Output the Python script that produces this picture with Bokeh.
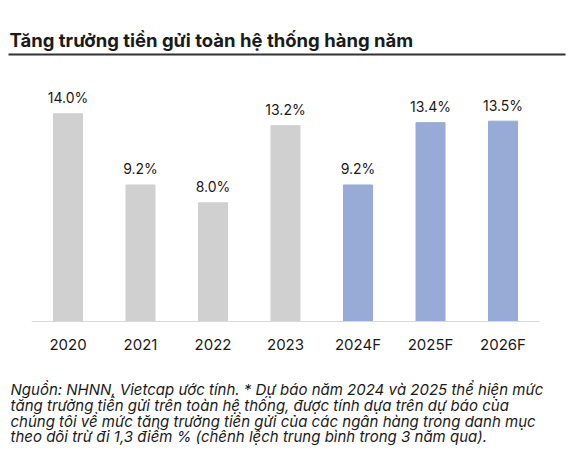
from bokeh.core.properties import value
from bokeh.embed import file_html
from bokeh.models import BoxAnnotation, ColumnDataSource, FactorRange, Label, Range1d
from bokeh.plotting import figure
from bokeh.resources import INLINE

# data
years = ["2020", "2021", "2022", "2023", "2024F", "2025F", "2026F"]
growth = [14.0, 9.2, 8.0, 13.2, 9.2, 13.4, 13.5]
colors = ["#D0D0D0"] * 4 + ["#97ABD6"] * 3

title_text = "Tăng trưởng tiền gửi toàn hệ thống hàng năm"
note_lines = [
    "Nguồn: NHNN, Vietcap ước tính. * Dự báo năm 2024 và 2025 thể hiện mức",
    "tăng trưởng tiền gửi trên toàn hệ thống, được tính dựa trên dự báo của",
    "chúng tôi về mức tăng trưởng tiền gửi của các ngân hàng trong danh mục",
    "theo dõi trừ đi 1,3 điểm % (chênh lệch trung bình trong 3 năm qua).",
]

FONT = "Inter"
TXT = "#1a1a1a"

W, H = 570, 461
BASE_Y = 321          # canvas row of the zero line
px_per_pct = 14.84

src = ColumnDataSource(dict(
    year=years,
    growth=growth,
    color=colors,
    label=[f"{v:.1f}%" for v in growth],
    zero=[0] * len(years),
))

# the frame fills the whole canvas; all text is drawn inside it
p = figure(
    width=W,
    height=H,
    x_range=FactorRange(*years, range_padding=0.431, range_padding_units="absolute"),
    y_range=Range1d(-(H - BASE_Y) / px_per_pct, BASE_Y / px_per_pct),
    output_backend="svg",
    toolbar_location=None,
    x_axis_location=None,
    y_axis_location=None,
    min_border=0,
)
p.outline_line_color = None
p.xgrid.grid_line_color = None
p.ygrid.grid_line_color = None

p.vbar(x="year", top="growth", width=0.4, color="color", source=src)

# zero line across the category span
p.segment(x0=[(years[0], -0.5)], x1=[(years[-1], 0.5)], y0=[0], y1=[0],
          line_color="#D9D9D9", line_width=1)

p.text(
    x="year", y="growth", text="label", source=src,
    text_align="center", text_baseline="alphabetic", y_offset=-16,
    text_font=value(FONT), text_font_size="14px", text_color=TXT,
)
p.text(
    x="year", y="zero", text="year", source=src,
    text_align="center", text_baseline="alphabetic", y_offset=23,
    text_font=value(FONT), text_font_size="15px", text_color=TXT,
)

# title with rule underneath
p.add_layout(Label(
    x=9, y=H - 39, x_units="screen", y_units="screen",
    text=title_text, text_font=FONT, text_font_size="18.5px",
    text_font_style="bold", text_color=TXT, text_baseline="alphabetic",
))
p.add_layout(BoxAnnotation(
    left=8, right=565, bottom=H - 55, top=H - 53,
    left_units="screen", right_units="screen", top_units="screen", bottom_units="screen",
    fill_color="#333333", fill_alpha=1, line_color=None,
))

# source note
for i, line in enumerate(note_lines):
    p.add_layout(Label(
        x=10, y=H - 389 - i * 15.8,
        x_units="screen", y_units="screen",
        text=line, text_font=FONT, text_font_size="15px",
        text_font_style="italic", text_color=TXT, text_baseline="alphabetic",
    ))

open("out.html", "w").write(file_html(p, INLINE))
